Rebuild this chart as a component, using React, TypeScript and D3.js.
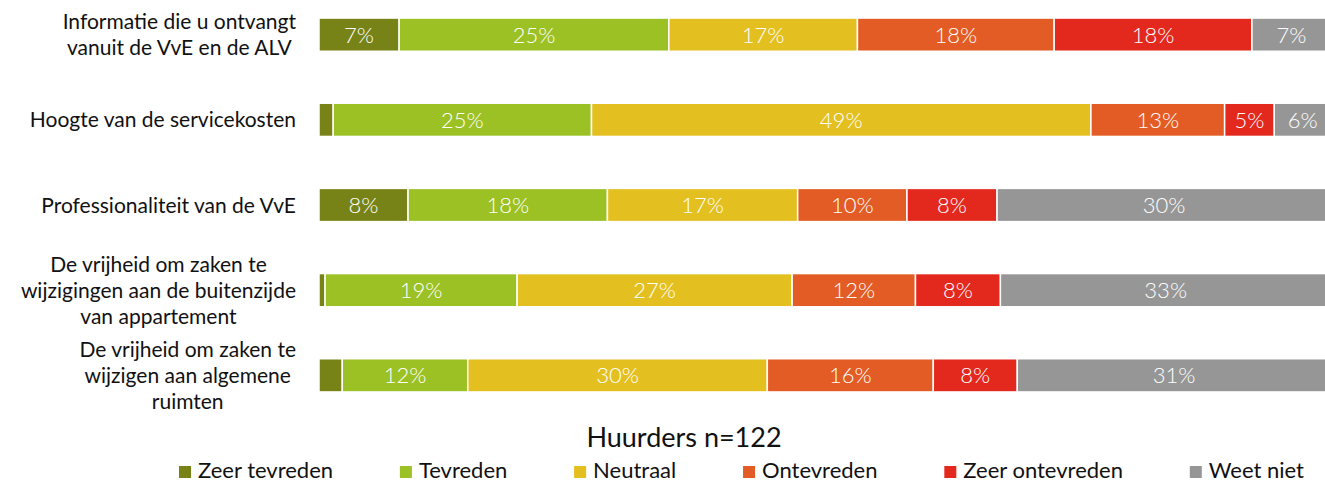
import { useEffect, useRef } from 'react';
import * as d3 from 'd3';

// Stellingen (regels van het label)
const questions: string[][] = [
  ['Informatie die u ontvangt', 'vanuit de VvE en de ALV'],
  ['Hoogte van de servicekosten'],
  ['Professionaliteit van de VvE'],
  ['De vrijheid om zaken te', 'wijzigingen aan de buitenzijde', 'van appartement'],
  ['De vrijheid om zaken te', 'wijzigen aan algemene', 'ruimten'],
];

const answers = ['Zeer tevreden', 'Tevreden', 'Neutraal', 'Ontevreden', 'Zeer ontevreden', 'Weet niet'];
const colors = ['#788317', '#9cc124', '#e3bf1f', '#e45c25', '#e3291e', '#969696'];

const zeerTevreden = [7.9, 1.4, 8.8, 0.6, 2.3];
const tevreden = [26.6, 25.5, 19.7, 19.0, 12.4];
const neutraal = [18.6, 49.3, 18.8, 27.2, 29.6];
const ontevreden = [19.4, 13.2, 10.8, 12.2, 16.4];
const zeerOntevreden = [19.5, 4.9, 8.9, 8.4, 8.3];
const weetNiet = [7.8, 5.6, 33.0, 32.7, 31.0];

// getoonde labels
const zeerTevredenLbl = [7, null, 8, null, null];
const tevredenLbl = [25, 25, 18, 19, 12];
const neutraalLbl = [17, 49, 17, 27, 30];
const ontevredenLbl = [18, 13, 10, 12, 16];
const zeerOntevredenLbl = [18, 5, 8, 8, 8];
const weetNietLbl = [7, 6, 30, 33, 31];

const title = 'Huurders n=122';

const W = 1325;
const H = 484;
const FONT = 'Lato, "Noto Sans", sans-serif';

export default function App() {
  const svgRef = useRef<SVGSVGElement>(null);

  useEffect(() => {
    if (!svgRef.current) return;
    const svg = d3.select(svgRef.current);
    svg.selectAll('*').remove();

    const series = [zeerTevreden, tevreden, neutraal, ontevreden, zeerOntevreden, weetNiet];
    const labels = [zeerTevredenLbl, tevredenLbl, neutraalLbl, ontevredenLbl, zeerOntevredenLbl, weetNietLbl];

    const rows = questions.map((q, i) => {
      const r: any = { id: String(i) };
      answers.forEach((a, k) => (r[a] = series[k][i]));
      return r;
    });

    const stacked = d3.stack<any>().keys(answers).offset(d3.stackOffsetExpand)(rows);

    const x = d3.scaleLinear().domain([0, 1]).range([319, 1331]);
    const y = d3
      .scaleBand()
      .domain(rows.map(r => r.id))
      .range([-7.5, 417.5])
      .paddingInner(0.61)
      .paddingOuter(0.3);

    const g = svg.append('g');

    stacked.forEach((layer, k) => {
      layer.forEach((d, i) => {
        const x0 = x(d[0]);
        const x1 = x(d[1]);
        const yy = y(String(i))!;
        g.append('rect')
          .attr('x', x0)
          .attr('y', yy)
          .attr('width', Math.max(0, x1 - x0))
          .attr('height', y.bandwidth())
          .attr('fill', colors[k])
          .attr('stroke', '#fff')
          .attr('stroke-width', 1.5);

        const lbl = labels[k][i];
        if (lbl != null) {
          g.append('text')
            .attr('x', (x0 + x1) / 2)
            .attr('y', yy + y.bandwidth() / 2)
            .attr('dy', '0.36em')
            .attr('text-anchor', 'middle')
            .attr('fill', '#fff')
            .attr('font-family', FONT)
            .attr('font-weight', 300)
            .attr('font-size', '22px')
            .text(`${lbl}%`);
        }
      });
    });

    // categorie labels: gecentreerde regels, blok rechts uitgelijnd
    const lineH = 26;
    const rightEdge = 296;
    questions.forEach((lines, i) => {
      const cy = y(String(i))! + y.bandwidth() / 2;
      const t = g
        .append('text')
        .attr('font-family', FONT)
        .attr('font-size', '21px')
        .attr('fill', '#111')
        .attr('text-anchor', 'middle');
      const spans = lines.map((line, j) =>
        t
          .append('tspan')
          .attr('y', cy + (j - (lines.length - 1) / 2) * lineH)
          .attr('dy', '0.36em')
          .text(line)
      );
      const maxW = d3.max(spans, s => (s.node() as SVGTSpanElement).getComputedTextLength()) || 0;
      spans.forEach(s => s.attr('x', rightEdge - maxW / 2));
    });

    svg
      .append('text')
      .attr('x', 684)
      .attr('y', 447)
      .attr('text-anchor', 'middle')
      .attr('font-family', FONT)
      .attr('font-size', '27px')
      .attr('fill', '#111')
      .text(title);

    // legenda
    const legendY = 478;
    const sq = 12;
    const sqGap = 7;
    const legStart = 179;
    const legEnd = 1304;
    const items = answers.map(a => {
      const lg = svg.append('g');
      lg.append('rect').attr('width', sq).attr('height', sq).attr('y', legendY - sq);
      const tx = lg
        .append('text')
        .attr('x', sq + sqGap)
        .attr('y', legendY)
        .attr('font-family', FONT)
        .attr('font-size', '22px')
        .attr('fill', '#111')
        .text(a);
      return { lg, w: (tx.node() as SVGTextElement).getComputedTextLength() };
    });
    const total = d3.sum(items, it => sq + sqGap + it.w);
    const gap = (legEnd - legStart - total) / (items.length - 1);
    let cx = legStart;
    items.forEach((it, k) => {
      it.lg.attr('transform', `translate(${cx},0)`);
      it.lg.select('rect').attr('fill', colors[k]);
      cx += sq + sqGap + it.w + gap;
    });
  }, []);

  return (
    <svg
      ref={svgRef}
      width={W}
      height={H}
      style={{ position: 'absolute', left: 0, top: 0, background: '#fff', overflow: 'hidden' }}
    />
  );
}
